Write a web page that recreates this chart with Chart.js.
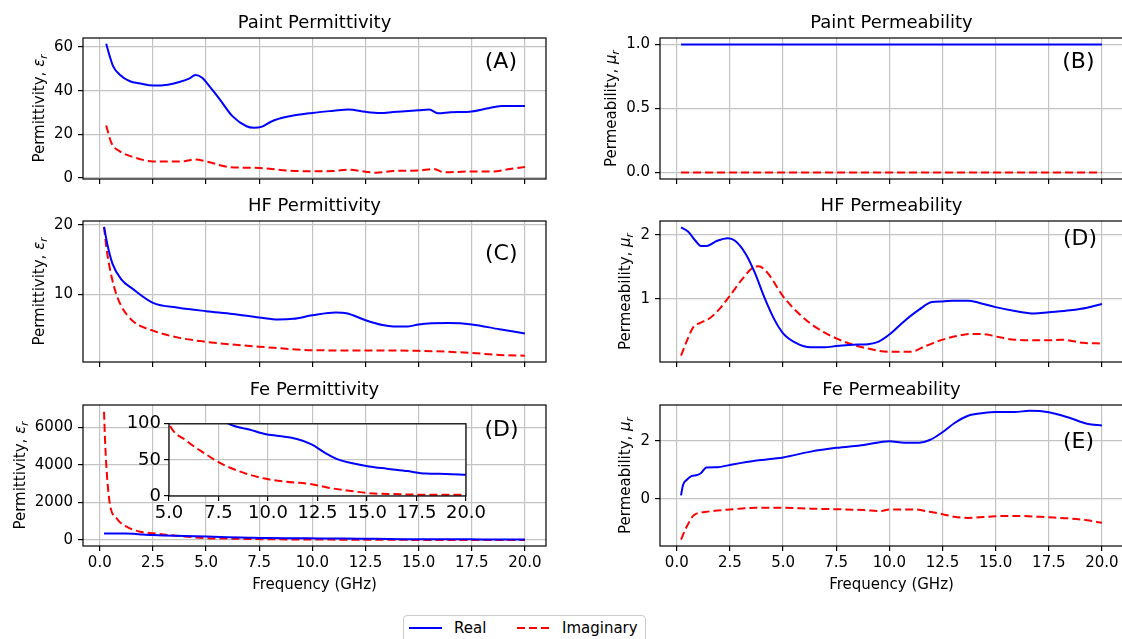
<!DOCTYPE html>
<html>
<head>
<meta charset="utf-8">
<script src="https://cdn.jsdelivr.net/npm/chart.js@4.4.0/dist/chart.umd.min.js"></script>
<style>
  html, body { margin: 0; padding: 0; background: #fff; width: 1122px; height: 639px; overflow: hidden; }
  body { position: relative; font-family: 'DejaVu Sans', sans-serif; }
  canvas { position: absolute; }
  #legend { position: absolute; left: 403px; top: 615px; width: 241px; height: 40px; border: 1px solid #cccccc; border-radius: 4px; background: #fff; font-size: 15px; color: #000; }
  #legend span { position: absolute; top: 3px; line-height: 18px; }
  #legend .ln { position: absolute; top: 11px; height: 2px; width: 33px; }
</style>
</head>
<body>
<canvas id="paintEps"></canvas>
<canvas id="paintMu"></canvas>
<canvas id="hfEps"></canvas>
<canvas id="hfMu"></canvas>
<canvas id="feEps"></canvas>
<canvas id="feMu"></canvas>
<canvas id="feInset"></canvas>
<div id="legend">
  <div class="ln" style="left:5px;background:#0000ff"></div><span style="left:50px">Real</span>
  <div class="ln" style="left:113px;width:32px;background:repeating-linear-gradient(90deg,#ff0000 0 8px,transparent 8px 12px)"></div><span style="left:158px">Imaginary</span>
</div>
<script>
// frequency ticks shared by every panel (GHz)
const freqTicks = [0, 2.5, 5, 7.5, 10, 12.5, 15, 17.5, 20];
const freqTickLabels = ['0.0', '2.5', '5.0', '7.5', '10.0', '12.5', '15.0', '17.5', '20.0'];

// Paint permittivity
const paintEpsRealF = [0.3, 0.47, 0.63, 0.94, 1.42, 1.9, 2.5, 3.2, 3.7, 4.2, 4.5, 4.8, 5.2, 5.6, 6.25, 6.9, 7.25, 7.6, 8.1, 8.8, 10, 11, 11.7, 12.5, 13.2, 13.8, 15, 15.5, 15.9, 16.5, 17.5, 18.2, 18.9, 20];
const paintEpsReal = [61.5, 55.7, 51.1, 47.3, 44.3, 43.3, 42.3, 42.7, 43.8, 45.5, 47.2, 46.0, 41.5, 36.6, 28.2, 23.7, 23.0, 23.4, 26.0, 28.0, 29.8, 30.8, 31.4, 30.3, 29.8, 30.2, 31.0, 31.4, 29.6, 30.1, 30.5, 31.8, 33.0, 33.0];
const paintEpsImagF = [0.3, 0.55, 0.94, 1.57, 2.5, 3.4, 4.0, 4.5, 5.0, 6.1, 7.5, 8.8, 10, 11, 11.7, 12.5, 13, 13.8, 15, 15.7, 16.2, 17.5, 18.5, 19.2, 20];
const paintEpsImag = [24, 16, 12.2, 9.6, 7.6, 7.5, 7.7, 8.5, 7.6, 5.0, 4.6, 3.4, 3.1, 3.2, 3.8, 2.9, 2.4, 3.2, 3.4, 4.1, 2.6, 3.0, 3.0, 4.0, 5.0];
const paintEpsTicks = [0, 20, 40, 60];
const paintEpsTickLabels = ['0', '20', '40', '60'];

// Paint permeability
const paintMuF = [0.2, 20];
const paintMuReal = [1, 1];
const paintMuImag = [0, 0];
const paintMuTicks = [0, 0.5, 1];
const paintMuTickLabels = ['0.0', '0.5', '1.0'];

// HF permittivity
const hfEpsRealF = [0.2, 0.37, 0.6, 1.0, 1.55, 2.5, 3.7, 5, 6.25, 7.5, 8.4, 9.1, 10, 11.1, 11.6, 12.5, 13.3, 13.8, 14.5, 15, 16.4, 17.5, 18.8, 20];
const hfEpsReal = [19.7, 17.0, 14.4, 12.2, 10.8, 8.8, 8.1, 7.6, 7.2, 6.7, 6.4, 6.5, 7.0, 7.4, 7.3, 6.3, 5.6, 5.4, 5.4, 5.7, 5.9, 5.7, 5.0, 4.4];
const hfEpsImagF = [0.2, 0.3, 0.45, 0.7, 1.0, 1.55, 2.5, 3.7, 5, 6.25, 7.5, 10, 12.5, 15, 17.5, 18.8, 20];
const hfEpsImag = [19.7, 17.0, 14.1, 10.8, 8.4, 6.2, 4.8, 3.8, 3.2, 2.8, 2.5, 2.0, 1.95, 1.9, 1.6, 1.3, 1.2];
const hfEpsTicks = [10, 20];
const hfEpsTickLabels = ['10', '20'];

// HF permeability
const hfMuRealF = [0.2, 0.54, 0.88, 1.13, 1.4, 1.9, 2.4, 2.74, 3.25, 3.67, 4.1, 4.6, 5.0, 5.6, 6.3, 6.96, 7.5, 8.3, 9.0, 9.5, 10, 10.7, 11.4, 12.0, 12.5, 13, 13.7, 14.2, 15, 15.9, 16.8, 17.5, 18.5, 19.3, 20];
const hfMuReal = [2.12, 2.05, 1.91, 1.83, 1.83, 1.91, 1.95, 1.91, 1.70, 1.41, 1.04, 0.67, 0.46, 0.31, 0.24, 0.24, 0.26, 0.28, 0.29, 0.33, 0.44, 0.65, 0.83, 0.95, 0.96, 0.97, 0.97, 0.94, 0.87, 0.81, 0.77, 0.79, 0.82, 0.86, 0.92];
const hfMuImagF = [0.2, 0.46, 0.8, 1.08, 1.56, 1.98, 2.5, 3.08, 3.58, 3.85, 4.26, 5.0, 5.8, 6.6, 7.5, 8.3, 9.0, 10, 11, 11.7, 12.5, 13.2, 13.9, 14.6, 15, 15.9, 17.5, 18.1, 19.1, 20];
const hfMuImag = [0.11, 0.33, 0.57, 0.62, 0.70, 0.83, 1.05, 1.31, 1.49, 1.51, 1.41, 1.04, 0.75, 0.54, 0.38, 0.28, 0.22, 0.17, 0.17, 0.26, 0.36, 0.42, 0.45, 0.44, 0.41, 0.36, 0.35, 0.36, 0.31, 0.30];
const hfMuTicks = [1, 2];
const hfMuTickLabels = ['1', '2'];

// Fe permittivity
const feEpsRealF = [0.2, 1.0, 1.6, 2.0, 2.5, 3, 4, 5, 6, 7, 7.5, 8.03, 9.1, 9.84, 10.56, 11.46, 12.2, 12.9, 13.6, 14.2, 15.1, 16.0, 17.06, 17.96, 19.0, 20];
const feEpsReal = [350, 345, 335, 290, 265, 245, 215, 180, 150, 125, 112, 100, 91.8, 86, 83, 78.9, 71.6, 59.5, 50, 45.7, 41, 37.9, 34.5, 31, 30.6, 29.3];
const feEpsImagF = [0.2, 0.24, 0.32, 0.47, 0.79, 1.26, 1.9, 2.5, 3.47, 5, 5.87, 6.77, 7.67, 8.75, 9.84, 10.9, 12.2, 13.1, 14.2, 15.1, 16.35, 18.15, 20];
const feEpsImag = [6824, 5495, 3723, 1952, 1154, 707, 441, 356, 240, 100, 76.7, 59.5, 44.4, 32.3, 24.1, 19.8, 16.4, 11.2, 6.9, 3.9, 2.6, 1.7, 1.7];
const feEpsTicks = [0, 2000, 4000, 6000];
const feEpsTickLabels = ['0', '2000', '4000', '6000'];
const insetFreqTicks = [5, 7.5, 10, 12.5, 15, 17.5, 20];
const insetFreqTickLabels = ['5.0', '7.5', '10.0', '12.5', '15.0', '17.5', '20.0'];
const insetTicks = [0, 50, 100];
const insetTickLabels = ['0', '50', '100'];

// Fe permeability
const feMuRealF = [0.2, 0.29, 0.46, 0.71, 0.96, 1.13, 1.39, 1.9, 2.5, 3.75, 5, 6.3, 7.5, 8.8, 10, 10.7, 11.4, 11.9, 12.5, 13.05, 13.7, 14.4, 15, 15.9, 16.6, 17.5, 18.5, 19.3, 20];
const feMuReal = [0.12, 0.47, 0.65, 0.79, 0.82, 0.88, 1.08, 1.09, 1.17, 1.32, 1.43, 1.63, 1.76, 1.86, 1.99, 1.94, 1.94, 2.03, 2.3, 2.61, 2.87, 2.96, 3.0, 3.0, 3.04, 2.99, 2.79, 2.59, 2.53];
const feMuImagF = [0.2, 0.46, 0.8, 1.39, 2.5, 3.75, 5, 6.3, 7.5, 8.8, 9.6, 10, 11.2, 11.9, 12.5, 13.05, 13.7, 15, 15.9, 17.5, 18.5, 19.3, 20];
const feMuImag = [-1.41, -0.97, -0.57, -0.45, -0.37, -0.31, -0.31, -0.34, -0.36, -0.39, -0.42, -0.37, -0.37, -0.45, -0.53, -0.62, -0.66, -0.6, -0.59, -0.64, -0.68, -0.74, -0.83];
const feMuTicks = [0, 2];
const feMuTickLabels = ['0', '2'];

Chart.defaults.font.family = "'DejaVu Sans', sans-serif";
Chart.defaults.font.size = 15;
Chart.defaults.color = '#000';

const FONT = "'DejaVu Sans', sans-serif";

// frame, title, panel tag, axis labels
const extras = {
  id: 'extras',
  beforeDraw(chart, args, o) {
    if (!o.whiteBg) return;
    const a = chart.chartArea, ctx = chart.ctx;
    ctx.save();
    ctx.fillStyle = '#fff';
    ctx.fillRect(a.left, a.top, a.right - a.left, a.bottom - a.top);
    ctx.restore();
  },
  afterDraw(chart, args, o) {
    const a = chart.chartArea, ctx = chart.ctx;
    ctx.save();
    ctx.strokeStyle = '#000';
    ctx.lineWidth = 1.2;
    ctx.strokeRect(a.left, a.top, a.right - a.left, a.bottom - a.top);
    ctx.fillStyle = '#000';
    const cx = (a.left + a.right) / 2;
    if (o.title) {
      ctx.font = '18px ' + FONT;
      ctx.textAlign = 'center';
      ctx.textBaseline = 'alphabetic';
      ctx.fillText(o.title, cx, a.top - 10);
    }
    if (o.tag) {
      ctx.font = '22px ' + FONT;
      ctx.textAlign = 'right';
      ctx.textBaseline = 'middle';
      ctx.fillText(o.tag, a.right - o.tagDx, a.top + o.tagDy);
    }
    if (o.xlabel) {
      ctx.font = '15px ' + FONT;
      ctx.textAlign = 'center';
      ctx.textBaseline = 'middle';
      ctx.fillText(o.xlabel, cx, a.bottom + 39);
    }
    if (o.yname) {
      ctx.font = '15px ' + FONT;
      let tw = 0;
      chart.scales.y.ticks.forEach(t => { tw = Math.max(tw, ctx.measureText(String(t.label)).width); });
      const bx = a.left - 10 - tw - 6 - 4;
      const cy = (a.top + a.bottom) / 2;
      ctx.translate(bx, cy);
      ctx.rotate(-Math.PI / 2);
      ctx.textAlign = 'left';
      ctx.textBaseline = 'alphabetic';
      const w1 = ctx.measureText(o.yname).width;
      ctx.font = 'italic 15px ' + FONT;
      const w2 = ctx.measureText(o.ysym).width;
      ctx.font = 'italic 10.5px ' + FONT;
      const w3 = ctx.measureText('r').width;
      const x0 = -(w1 + w2 + w3) / 2;
      ctx.font = '15px ' + FONT;
      ctx.fillText(o.yname, x0, 0);
      ctx.font = 'italic 15px ' + FONT;
      ctx.fillText(o.ysym, x0 + w1, 0);
      ctx.font = 'italic 10.5px ' + FONT;
      ctx.fillText('r', x0 + w1 + w2, 3);
    }
    ctx.restore();
  }
};

function lineSets(realF, real, imagF, imag) {
  const mk = (f, v, color, dash) => ({
    data: f.map((x, k) => ({ x: x, y: v[k] })),
    borderColor: color,
    borderWidth: 2,
    borderDash: dash,
    borderCapStyle: 'butt',
    pointRadius: 0,
    tension: 0.4,
    cubicInterpolationMode: 'monotone',
    fill: false
  });
  return [mk(realF, real, '#0000ff', []), mk(imagF, imag, '#ff0000', [8, 4])];
}

function gridOpts() {
  return { color: '#c4c4c4', lineWidth: 1.2, tickColor: '#000', tickWidth: 1.2, tickLength: 5, drawTicks: true };
}

function makeChart(id, g, sc, sets, ex) {
  const el = document.getElementById(id);
  el.width = g.w; el.height = g.h;
  el.style.left = g.left + 'px'; el.style.top = g.top + 'px';
  el.style.width = g.w + 'px'; el.style.height = g.h + 'px';
  return new Chart(el, {
    type: 'line',
    data: { datasets: sets },
    options: {
      responsive: false,
      animation: false,
      devicePixelRatio: 1,
      layout: { padding: { left: 0, top: g.padT, right: g.padR, bottom: 0 } },
      plugins: { legend: { display: false }, tooltip: { enabled: false }, extras: ex },
      scales: {
        x: {
          type: 'linear', min: sc.xMin, max: sc.xMax,
          afterBuildTicks: s => { s.ticks = sc.xTicks.map(v => ({ value: v })); },
          afterFit: s => { s.height = g.xH; },
          ticks: { autoSkip: false, maxRotation: 0, padding: g.xPad, font: { size: g.fs }, color: '#000',
                   callback: (v, i) => sc.xLabels ? sc.xLabels[i] : '' },
          grid: gridOpts(),
          border: { display: false }
        },
        y: {
          type: 'linear', min: sc.yMin, max: sc.yMax,
          afterBuildTicks: s => { s.ticks = sc.yTicks.map(v => ({ value: v })); },
          afterFit: s => { s.width = g.yW; },
          ticks: { autoSkip: false, padding: g.yPad, font: { size: g.fs }, color: '#000',
                   callback: (v, i) => sc.yLabels[i] },
          grid: gridOpts(),
          border: { display: false }
        }
      }
    },
    plugins: [extras]
  });
}

const rowTop = [38, 221, 405];
const plotH = 141;
function geom(col, row) {
  const base = { top: rowTop[row] - 38, h: 38 + plotH + 56, padT: 38, xH: 56, xPad: 3, yPad: 5, fs: 15 };
  if (col === 0) return Object.assign(base, { left: 0, w: 562, yW: 83, padR: 16 });
  return Object.assign(base, { left: 562, w: 566, yW: 98, padR: 5 });
}
const xMin = -0.79, xMax = 20.99;

makeChart('paintEps', geom(0, 0),
  { xMin, xMax, xTicks: freqTicks, xLabels: null, yMin: -0.46, yMax: 64.1, yTicks: paintEpsTicks, yLabels: paintEpsTickLabels },
  lineSets(paintEpsRealF, paintEpsReal, paintEpsImagF, paintEpsImag),
  { title: 'Paint Permittivity', tag: '(A)', tagDx: 29, tagDy: 24.5, yname: 'Permittivity, ', ysym: 'ε' });

makeChart('paintMu', geom(1, 0),
  { xMin, xMax, xTicks: freqTicks, xLabels: null, yMin: -0.05, yMax: 1.05, yTicks: paintMuTicks, yLabels: paintMuTickLabels },
  lineSets(paintMuF, paintMuReal, paintMuF, paintMuImag),
  { title: 'Paint Permeability', tag: '(B)', tagDx: 28.5, tagDy: 24.7, yname: 'Permeability, ', ysym: 'μ' });

makeChart('hfEps', geom(0, 1),
  { xMin, xMax, xTicks: freqTicks, xLabels: null, yMin: 0.3, yMax: 20.55, yTicks: hfEpsTicks, yLabels: hfEpsTickLabels },
  lineSets(hfEpsRealF, hfEpsReal, hfEpsImagF, hfEpsImag),
  { title: 'HF Permittivity', tag: '(C)', tagDx: 28.5, tagDy: 33.7, yname: 'Permittivity, ', ysym: 'ε' });

makeChart('hfMu', geom(1, 1),
  { xMin, xMax, xTicks: freqTicks, xLabels: null, yMin: 0.01, yMax: 2.22, yTicks: hfMuTicks, yLabels: hfMuTickLabels },
  lineSets(hfMuRealF, hfMuReal, hfMuImagF, hfMuImag),
  { title: 'HF Permeability', tag: '(D)', tagDx: 26, tagDy: 18.6, yname: 'Permeability, ', ysym: 'μ' });

makeChart('feEps', geom(0, 2),
  { xMin, xMax, xTicks: freqTicks, xLabels: freqTickLabels, yMin: -320, yMax: 7187, yTicks: feEpsTicks, yLabels: feEpsTickLabels },
  lineSets(feEpsRealF, feEpsReal, feEpsImagF, feEpsImag),
  { title: 'Fe Permittivity', tag: '(D)', tagDx: 27.5, tagDy: 25.6, yname: 'Permittivity, ', ysym: 'ε', xlabel: 'Frequency (GHz)' });

makeChart('feMu', geom(1, 2),
  { xMin, xMax, xTicks: freqTicks, xLabels: freqTickLabels, yMin: -1.63, yMax: 3.24, yTicks: feMuTicks, yLabels: feMuTickLabels },
  lineSets(feMuRealF, feMuReal, feMuImagF, feMuImag),
  { title: 'Fe Permeability', tag: '(E)', tagDx: 29, tagDy: 37, yname: 'Permeability, ', ysym: 'μ', xlabel: 'Frequency (GHz)' });

// inset of the Fe permittivity panel, same data, zoomed scales
makeChart('feInset', { left: 110, top: 410, w: 390, h: 120, padT: 9, padR: 34, xH: 34, yW: 59, xPad: 2, yPad: 3, fs: 18 },
  { xMin: 5, xMax: 20, xTicks: insetFreqTicks, xLabels: insetFreqTickLabels, yMin: 0, yMax: 100, yTicks: insetTicks, yLabels: insetTickLabels },
  lineSets(feEpsRealF, feEpsReal, feEpsImagF, feEpsImag),
  { whiteBg: true });
</script>
</body>
</html>
